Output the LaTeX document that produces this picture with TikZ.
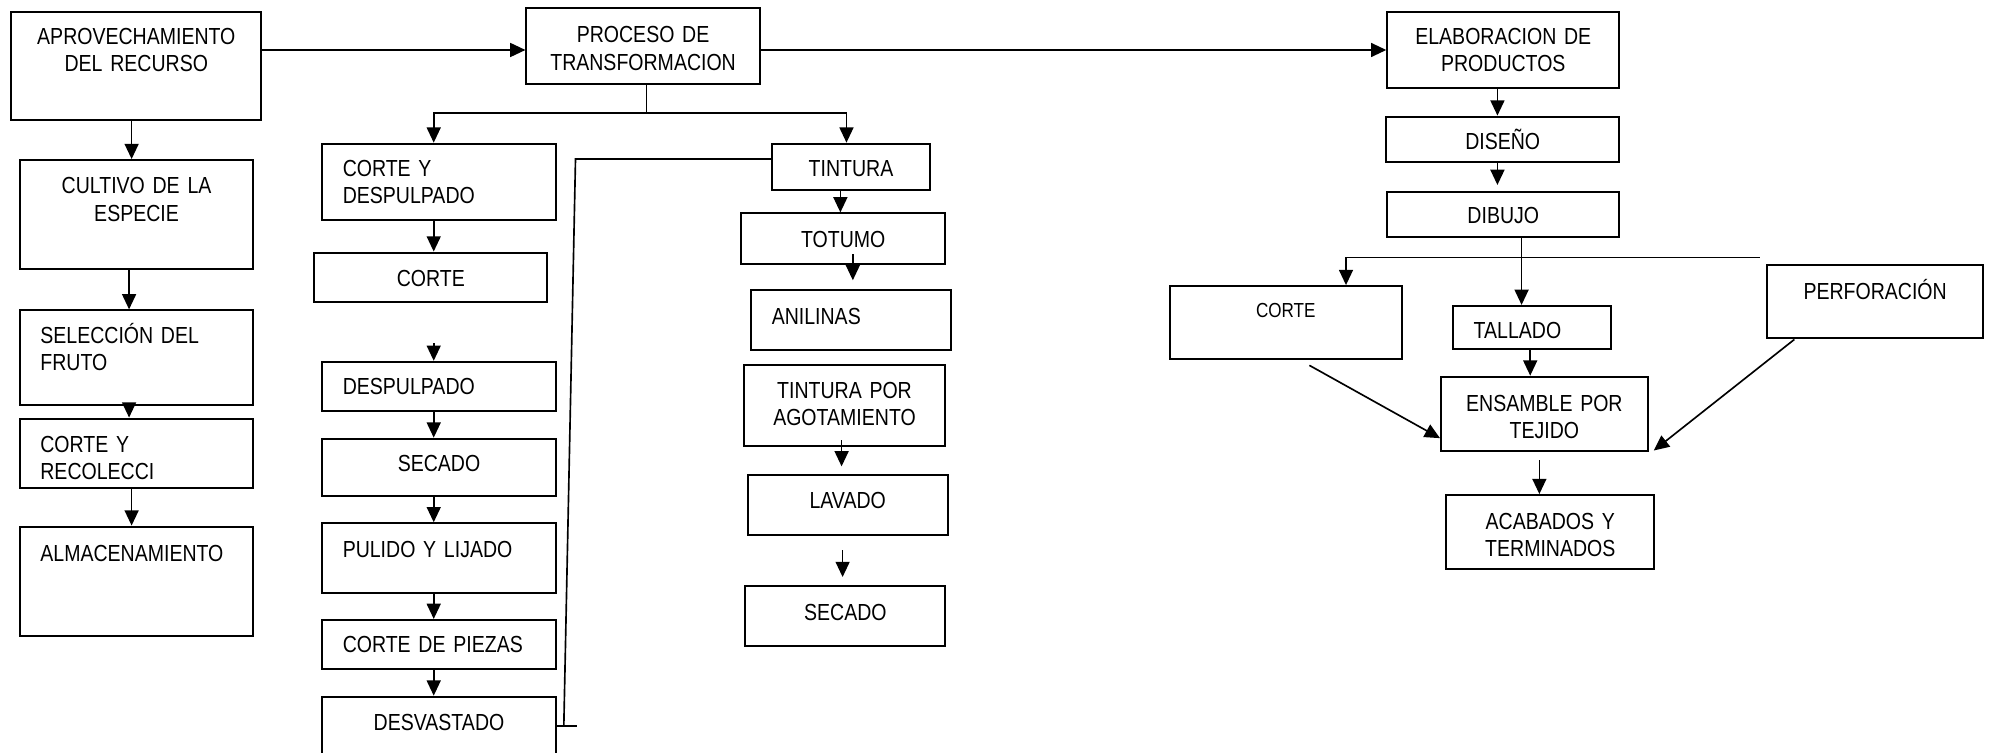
\documentclass[tikz,border=0pt]{standalone}
\usepackage{fontspec}
\setmainfont[FakeStretch=0.84]{Liberation Sans}
\usepackage{tikz}
\usetikzlibrary{arrows.meta, calc}

\newcommand{\boxfont}{\fontsize{18.3}{21.5}\selectfont}
\newcommand{\smallboxfont}{\fontsize{16}{19}\selectfont}

\begin{document}
\begin{tikzpicture}[
  x=1pt, y=-1pt,
  box/.style={draw, line width=1.6pt, anchor=north west, inner ysep=0pt, font=\boxfont},
  mid/.style n args={3}{box, align=center, inner xsep=4pt, text width=#1pt, text height=#2pt, text depth=#3pt},
  lft/.style n args={3}{box, align=left, inner xsep=16pt, text width=#1pt, text height=#2pt, text depth=#3pt},
  arr/.style={-{Triangle[length=12pt, width=11pt]}, line width=1.3pt},
  ln/.style={line width=1.3pt},
]
  \useasboundingbox (0,0) rectangle (1568,592);

  % aprovechamiento
  \node[mid={189}{25.7}{59.6}] (aprov) at (8,8.4) {APROVECHAMIENTO\\DEL RECURSO};
  \node[mid={175.4}{26.5}{59.5}] (cultivo) at (15,125.2) {CULTIVO DE LA\\ESPECIE};
  \node[lft={151.4}{26.2}{48.3}] (seleccion) at (15,243.5) {SELECCIÓN DEL\\FRUTO};
  \node[lft={151.4}{26.3}{28}] (recolec) at (15,328.7) {CORTE Y\\RECOLECCI};
  \node[lft={151.4}{27.1}{59}] (almac) at (15,413.7) {ALMACENAMIENTO};

  % transformacion
  \node[mid={175.6}{27.6}{32.8}] (proceso) at (413.6,5.2) {PROCESO DE\\TRANSFORMACION};
  \node[lft={151.5}{25.5}{34.9}] (cortedesp) at (253,112.3) {CORTE Y\\DESPULPADO};
  \node[mid={175.4}{26.4}{12.3}] (corte1) at (246.6,198) {CORTE};
  \node[lft={151.5}{26}{12.7}] (despulpado) at (253,284) {DESPULPADO};
  \node[mid={175.5}{25.9}{19.5}] (secado1) at (253,344.5) {SECADO};
  \node[lft={151.5}{27}{27.6}] (pulido) at (253,411.1) {PULIDO Y LIJADO};
  \node[lft={151.5}{25.8}{12.5}] (piezas) at (253,487.2) {CORTE DE PIEZAS};
  \node[mid={175.5}{26.4}{31}] (desvastado) at (253,547.6) {DESVASTADO};

  % tintura
  \node[mid={115.7}{26}{10.5}] (tintura) at (607.2,112.3) {TINTURA};
  \node[mid={152.6}{27}{12.6}] (totumo) at (582.6,167.2) {TOTUMO};
  \node[lft={125.1}{26.7}{20.2}] (anilinas) at (590.7,227.8) {ANILINAS};
  \node[mid={150.7}{26.2}{37.3}] (agotam) at (584.6,286.5) {TINTURA POR\\AGOTAMIENTO};
  \node[mid={149.5}{26.3}{21}] (lavado) at (587.7,373.3) {LAVADO};
  \node[mid={149.4}{27.1}{20.2}] (secado2) at (585.9,460.4) {SECADO};

  % productos
  \node[mid={174.6}{25.7}{34.6}] (elab) at (1091.2,8.4) {ELABORACION DE\\PRODUCTOS};
  \node[mid={175.5}{25.8}{9.9}] (diseno) at (1090.3,91) {DISEÑO};
  \node[mid={174.6}{25.3}{10.5}] (dibujo) at (1091.2,150) {DIBUJO};
  \node[mid={174.6}{24.9}{32.7}, font=\smallboxfont] (corte2) at (920,224.4) {CORTE};
  \node[lft={92.3}{25.6}{8.1}] (tallado) at (1143.2,240) {TALLADO};
  \node[mid={162.4}{26.9}{30.7}] (perfor) at (1390,208) {PERFORACIÓN};
  \node[mid={154.7}{27.1}{31.5}] (ensamble) at (1133.5,295.7) {ENSAMBLE POR\\TEJIDO};
  \node[mid={155.6}{27}{31}] (acabados) at (1137.7,388.9) {ACABADOS Y\\TERMINADOS};

  \coordinate (c1) at (103.6,0);
  \coordinate (c1b) at (101.6,0);
  \coordinate (c2) at (341.4,0);
  \coordinate (c3) at (661.5,0);
  \coordinate (c4) at (1178.7,0);
  \coordinate (c5) at (1197.7,0);
  \coordinate (c6) at (1204.5,0);
  \coordinate (c7) at (1211.7,0);
  \coordinate (split) at (509,89.2);
  \coordinate (jt) at (453,125.2);
  \coordinate (jb) at (443.8,571.5);
  \coordinate (hr) at (1385,202.6);

  % main line
  \draw[arr] (aprov.east |- elab.west) -- (proceso.west |- elab.west);
  \draw[arr] (proceso.east |- elab.west) -- (elab.west);

  \draw[arr] (c1 |- aprov.south) -- (c1 |- cultivo.north);
  \draw[arr] (c1b |- cultivo.south) -- (c1b |- seleccion.north);
  \draw[arr] (c1b |- seleccion.south) -- (c1b |- recolec.north);
  \draw[arr] (c1 |- recolec.south) -- (c1 |- almac.north);

  \draw[ln] (split |- proceso.south) -- (split);
  \draw[arr] (split) -| (c2 |- cortedesp.north);
  \draw[arr] (split) -| (666.3,0 |- tintura.north);

  \draw[arr] (c2 |- cortedesp.south) -- (c2 |- corte1.north);
  \draw[arr] ($(c2 |- despulpado.north)+(0,-14)$) -- (c2 |- despulpado.north);
  \draw[arr] (c2 |- despulpado.south) -- (c2 |- secado1.north);
  \draw[arr] (c2 |- secado1.south) -- (c2 |- pulido.north);
  \draw[arr] (c2 |- pulido.south) -- (c2 |- piezas.north);
  \draw[arr] (c2 |- piezas.south) -- (c2 |- desvastado.north);

  \draw[ln] (tintura.west |- jt) -- (jt) -- (jb);
  \draw[ln] (desvastado.east |- jb) -- ++(16.1,0);

  \draw[arr] (c3 |- tintura.south) -- (c3 |- totumo.north);
  \draw[arr] ($(totumo.south)+(7.6,-8.2)$) -- ($(totumo.south)+(7.6,12.2)$);
  \draw[arr] ($(agotam.south)+(-2.3,-5)$) -- ($(agotam.south)+(-2.3,15.5)$);
  \draw[arr] ($(lavado.south)+(-4,11)$) -- ($(lavado.south)+(-4,32)$);

  \draw[arr] (c4 |- elab.south) -- (c4 |- diseno.north);
  \draw[arr] (c4 |- diseno.south) -- ($(c4 |- dibujo.north)+(0,-4.4)$);
  \draw[arr] (c5 |- dibujo.south) -- (c5 |- tallado.north);
  \draw[arr] (hr) -| (1059.5,0 |- corte2.north);
  \draw[arr] (c6 |- tallado.south) -- (c6 |- ensamble.north);
  \draw[arr] ($(corte2.south)+(18.6,4)$) -- ($(ensamble.south west)+(0,-11)$);
  \draw[arr] ($(perfor.south west)+(22.4,0)$) -- ($(ensamble.south east)+(4,-1.3)$);
  \draw[arr] ($(c7 |- ensamble.south)+(0,6.5)$) -- (c7 |- acabados.north);
\end{tikzpicture}
\end{document}
